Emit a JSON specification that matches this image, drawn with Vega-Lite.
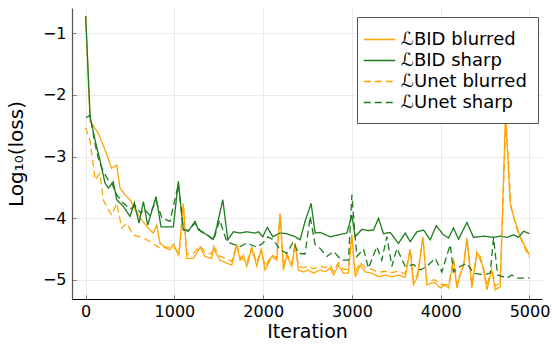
{
  "$schema": "https://vega.github.io/schema/vega-lite/v6.json",
  "autosize": "none",
  "width": 470,
  "height": 291,
  "padding": {"left": 72, "top": 8, "right": 10, "bottom": 46},
  "background": "white",
  "config": {
    "view": {"stroke": null},
    "font": "DejaVu Sans",
    "axis": {
      "labelFont": "DejaVu Sans",
      "titleFont": "DejaVu Sans",
      "labelColor": "#000000",
      "titleColor": "#000000",
      "labelFontSize": 16,
      "titleFontSize": 19,
      "titleFontWeight": "normal",
      "gridColor": "#e6e6e6",
      "gridWidth": 0.8,
      "tickColor": "#777777",
      "tickSize": -4,
      "domainWidth": 1.2
    },
    "legend": {
      "labelFont": "DejaVu Sans",
      "labelFontSize": 18,
      "labelColor": "#000000"
    }
  },
  "data": {"values": [
    {"series":"BID blurred","iteration":0,"loss":-0.72},
    {"series":"BID blurred","iteration":50,"loss":-2.43},
    {"series":"BID blurred","iteration":142,"loss":-2.62},
    {"series":"BID blurred","iteration":218,"loss":-2.89},
    {"series":"BID blurred","iteration":293,"loss":-3.19},
    {"series":"BID blurred","iteration":350,"loss":-3.14},
    {"series":"BID blurred","iteration":387,"loss":-3.51},
    {"series":"BID blurred","iteration":443,"loss":-3.62},
    {"series":"BID blurred","iteration":500,"loss":-3.70},
    {"series":"BID blurred","iteration":556,"loss":-3.86},
    {"series":"BID blurred","iteration":631,"loss":-4.03},
    {"series":"BID blurred","iteration":706,"loss":-4.16},
    {"series":"BID blurred","iteration":762,"loss":-4.24},
    {"series":"BID blurred","iteration":800,"loss":-4.11},
    {"series":"BID blurred","iteration":838,"loss":-4.41},
    {"series":"BID blurred","iteration":913,"loss":-4.49},
    {"series":"BID blurred","iteration":950,"loss":-4.51},
    {"series":"BID blurred","iteration":988,"loss":-4.42},
    {"series":"BID blurred","iteration":1050,"loss":-4.60},
    {"series":"BID blurred","iteration":1100,"loss":-3.76},
    {"series":"BID blurred","iteration":1139,"loss":-4.65},
    {"series":"BID blurred","iteration":1213,"loss":-4.65},
    {"series":"BID blurred","iteration":1251,"loss":-4.57},
    {"series":"BID blurred","iteration":1289,"loss":-4.47},
    {"series":"BID blurred","iteration":1345,"loss":-4.62},
    {"series":"BID blurred","iteration":1420,"loss":-4.65},
    {"series":"BID blurred","iteration":1439,"loss":-4.49},
    {"series":"BID blurred","iteration":1514,"loss":-4.68},
    {"series":"BID blurred","iteration":1590,"loss":-4.73},
    {"series":"BID blurred","iteration":1646,"loss":-4.76},
    {"series":"BID blurred","iteration":1702,"loss":-4.43},
    {"series":"BID blurred","iteration":1740,"loss":-4.68},
    {"series":"BID blurred","iteration":1777,"loss":-4.60},
    {"series":"BID blurred","iteration":1815,"loss":-4.78},
    {"series":"BID blurred","iteration":1871,"loss":-4.49},
    {"series":"BID blurred","iteration":1928,"loss":-4.78},
    {"series":"BID blurred","iteration":1977,"loss":-4.51},
    {"series":"BID blurred","iteration":2021,"loss":-4.84},
    {"series":"BID blurred","iteration":2097,"loss":-4.62},
    {"series":"BID blurred","iteration":2153,"loss":-4.68},
    {"series":"BID blurred","iteration":2190,"loss":-3.92},
    {"series":"BID blurred","iteration":2228,"loss":-4.84},
    {"series":"BID blurred","iteration":2265,"loss":-4.60},
    {"series":"BID blurred","iteration":2322,"loss":-4.78},
    {"series":"BID blurred","iteration":2360,"loss":-4.40},
    {"series":"BID blurred","iteration":2397,"loss":-4.84},
    {"series":"BID blurred","iteration":2453,"loss":-4.87},
    {"series":"BID blurred","iteration":2510,"loss":-4.84},
    {"series":"BID blurred","iteration":2566,"loss":-4.89},
    {"series":"BID blurred","iteration":2642,"loss":-4.84},
    {"series":"BID blurred","iteration":2698,"loss":-4.87},
    {"series":"BID blurred","iteration":2754,"loss":-4.81},
    {"series":"BID blurred","iteration":2792,"loss":-4.92},
    {"series":"BID blurred","iteration":2848,"loss":-4.76},
    {"series":"BID blurred","iteration":2904,"loss":-4.89},
    {"series":"BID blurred","iteration":2960,"loss":-4.89},
    {"series":"BID blurred","iteration":2999,"loss":-4.27},
    {"series":"BID blurred","iteration":3036,"loss":-4.95},
    {"series":"BID blurred","iteration":3092,"loss":-4.76},
    {"series":"BID blurred","iteration":3149,"loss":-4.87},
    {"series":"BID blurred","iteration":3224,"loss":-4.89},
    {"series":"BID blurred","iteration":3299,"loss":-4.95},
    {"series":"BID blurred","iteration":3374,"loss":-4.92},
    {"series":"BID blurred","iteration":3450,"loss":-4.95},
    {"series":"BID blurred","iteration":3524,"loss":-4.92},
    {"series":"BID blurred","iteration":3600,"loss":-4.96},
    {"series":"BID blurred","iteration":3656,"loss":-4.51},
    {"series":"BID blurred","iteration":3693,"loss":-5.08},
    {"series":"BID blurred","iteration":3740,"loss":-4.95},
    {"series":"BID blurred","iteration":3799,"loss":-4.30},
    {"series":"BID blurred","iteration":3844,"loss":-5.08},
    {"series":"BID blurred","iteration":3900,"loss":-5.05},
    {"series":"BID blurred","iteration":3938,"loss":-5.05},
    {"series":"BID blurred","iteration":3994,"loss":-5.13},
    {"series":"BID blurred","iteration":4050,"loss":-5.08},
    {"series":"BID blurred","iteration":4088,"loss":-5.13},
    {"series":"BID blurred","iteration":4144,"loss":-4.68},
    {"series":"BID blurred","iteration":4182,"loss":-5.13},
    {"series":"BID blurred","iteration":4220,"loss":-4.90},
    {"series":"BID blurred","iteration":4257,"loss":-4.78},
    {"series":"BID blurred","iteration":4295,"loss":-4.32},
    {"series":"BID blurred","iteration":4330,"loss":-4.80},
    {"series":"BID blurred","iteration":4351,"loss":-5.13},
    {"series":"BID blurred","iteration":4407,"loss":-4.57},
    {"series":"BID blurred","iteration":4445,"loss":-4.62},
    {"series":"BID blurred","iteration":4482,"loss":-4.84},
    {"series":"BID blurred","iteration":4520,"loss":-5.16},
    {"series":"BID blurred","iteration":4576,"loss":-4.84},
    {"series":"BID blurred","iteration":4614,"loss":-5.16},
    {"series":"BID blurred","iteration":4670,"loss":-5.11},
    {"series":"BID blurred","iteration":4730,"loss":-2.30},
    {"series":"BID blurred","iteration":4782,"loss":-3.76},
    {"series":"BID blurred","iteration":4821,"loss":-3.97},
    {"series":"BID blurred","iteration":4858,"loss":-4.14},
    {"series":"BID blurred","iteration":4895,"loss":-4.30},
    {"series":"BID blurred","iteration":4952,"loss":-4.46},
    {"series":"BID blurred","iteration":5000,"loss":-4.60},

    {"series":"BID sharp","iteration":0,"loss":-0.72},
    {"series":"BID sharp","iteration":50,"loss":-2.35},
    {"series":"BID sharp","iteration":105,"loss":-2.73},
    {"series":"BID sharp","iteration":160,"loss":-3.05},
    {"series":"BID sharp","iteration":218,"loss":-3.43},
    {"series":"BID sharp","iteration":255,"loss":-3.51},
    {"series":"BID sharp","iteration":311,"loss":-3.41},
    {"series":"BID sharp","iteration":350,"loss":-3.70},
    {"series":"BID sharp","iteration":420,"loss":-3.80},
    {"series":"BID sharp","iteration":500,"loss":-3.97},
    {"series":"BID sharp","iteration":548,"loss":-3.75},
    {"series":"BID sharp","iteration":601,"loss":-4.08},
    {"series":"BID sharp","iteration":650,"loss":-3.73},
    {"series":"BID sharp","iteration":699,"loss":-4.11},
    {"series":"BID sharp","iteration":793,"loss":-3.65},
    {"series":"BID sharp","iteration":849,"loss":-4.14},
    {"series":"BID sharp","iteration":988,"loss":-4.14},
    {"series":"BID sharp","iteration":1044,"loss":-3.40},
    {"series":"BID sharp","iteration":1100,"loss":-4.19},
    {"series":"BID sharp","iteration":1157,"loss":-4.21},
    {"series":"BID sharp","iteration":1232,"loss":-4.05},
    {"series":"BID sharp","iteration":1270,"loss":-4.19},
    {"series":"BID sharp","iteration":1307,"loss":-4.21},
    {"series":"BID sharp","iteration":1364,"loss":-4.27},
    {"series":"BID sharp","iteration":1439,"loss":-4.34},
    {"series":"BID sharp","iteration":1477,"loss":-4.14},
    {"series":"BID sharp","iteration":1545,"loss":-3.70},
    {"series":"BID sharp","iteration":1601,"loss":-4.35},
    {"series":"BID sharp","iteration":1664,"loss":-4.22},
    {"series":"BID sharp","iteration":1740,"loss":-4.24},
    {"series":"BID sharp","iteration":1815,"loss":-4.22},
    {"series":"BID sharp","iteration":1909,"loss":-4.24},
    {"series":"BID sharp","iteration":1946,"loss":-4.22},
    {"series":"BID sharp","iteration":1995,"loss":-4.30},
    {"series":"BID sharp","iteration":2047,"loss":-4.15},
    {"series":"BID sharp","iteration":2108,"loss":-4.30},
    {"series":"BID sharp","iteration":2190,"loss":-4.24},
    {"series":"BID sharp","iteration":2265,"loss":-4.25},
    {"series":"BID sharp","iteration":2360,"loss":-4.30},
    {"series":"BID sharp","iteration":2416,"loss":-4.35},
    {"series":"BID sharp","iteration":2472,"loss":-4.05},
    {"series":"BID sharp","iteration":2540,"loss":-3.76},
    {"series":"BID sharp","iteration":2585,"loss":-4.24},
    {"series":"BID sharp","iteration":2642,"loss":-4.23},
    {"series":"BID sharp","iteration":2754,"loss":-4.30},
    {"series":"BID sharp","iteration":2942,"loss":-4.24},
    {"series":"BID sharp","iteration":2999,"loss":-3.95},
    {"series":"BID sharp","iteration":3036,"loss":-4.30},
    {"series":"BID sharp","iteration":3112,"loss":-4.18},
    {"series":"BID sharp","iteration":3186,"loss":-4.20},
    {"series":"BID sharp","iteration":3243,"loss":-4.19},
    {"series":"BID sharp","iteration":3299,"loss":-4.00},
    {"series":"BID sharp","iteration":3355,"loss":-4.25},
    {"series":"BID sharp","iteration":3431,"loss":-4.23},
    {"series":"BID sharp","iteration":3524,"loss":-4.41},
    {"series":"BID sharp","iteration":3600,"loss":-4.24},
    {"series":"BID sharp","iteration":3656,"loss":-4.38},
    {"series":"BID sharp","iteration":3732,"loss":-4.22},
    {"series":"BID sharp","iteration":3806,"loss":-4.19},
    {"series":"BID sharp","iteration":3882,"loss":-4.35},
    {"series":"BID sharp","iteration":3949,"loss":-4.12},
    {"series":"BID sharp","iteration":4031,"loss":-4.27},
    {"series":"BID sharp","iteration":4088,"loss":-4.32},
    {"series":"BID sharp","iteration":4144,"loss":-4.16},
    {"series":"BID sharp","iteration":4201,"loss":-4.34},
    {"series":"BID sharp","iteration":4295,"loss":-4.07},
    {"series":"BID sharp","iteration":4370,"loss":-4.31},
    {"series":"BID sharp","iteration":4482,"loss":-4.29},
    {"series":"BID sharp","iteration":4595,"loss":-4.31},
    {"series":"BID sharp","iteration":4670,"loss":-4.29},
    {"series":"BID sharp","iteration":4746,"loss":-4.31},
    {"series":"BID sharp","iteration":4821,"loss":-4.27},
    {"series":"BID sharp","iteration":4877,"loss":-4.31},
    {"series":"BID sharp","iteration":4933,"loss":-4.21},
    {"series":"BID sharp","iteration":5000,"loss":-4.25},

    {"series":"Unet blurred","iteration":0,"loss":-2.53},
    {"series":"Unet blurred","iteration":50,"loss":-2.75},
    {"series":"Unet blurred","iteration":107,"loss":-3.38},
    {"series":"Unet blurred","iteration":161,"loss":-3.27},
    {"series":"Unet blurred","iteration":198,"loss":-3.70},
    {"series":"Unet blurred","iteration":250,"loss":-3.85},
    {"series":"Unet blurred","iteration":293,"loss":-3.95},
    {"series":"Unet blurred","iteration":350,"loss":-3.76},
    {"series":"Unet blurred","iteration":406,"loss":-4.16},
    {"series":"Unet blurred","iteration":462,"loss":-4.08},
    {"series":"Unet blurred","iteration":537,"loss":-4.27},
    {"series":"Unet blurred","iteration":650,"loss":-4.32},
    {"series":"Unet blurred","iteration":750,"loss":-4.40},
    {"series":"Unet blurred","iteration":838,"loss":-4.49},
    {"series":"Unet blurred","iteration":913,"loss":-4.47},
    {"series":"Unet blurred","iteration":988,"loss":-4.46},
    {"series":"Unet blurred","iteration":1050,"loss":-4.57},
    {"series":"Unet blurred","iteration":1100,"loss":-3.80},
    {"series":"Unet blurred","iteration":1139,"loss":-4.58},
    {"series":"Unet blurred","iteration":1213,"loss":-4.57},
    {"series":"Unet blurred","iteration":1289,"loss":-4.45},
    {"series":"Unet blurred","iteration":1345,"loss":-4.55},
    {"series":"Unet blurred","iteration":1420,"loss":-4.58},
    {"series":"Unet blurred","iteration":1439,"loss":-4.45},
    {"series":"Unet blurred","iteration":1514,"loss":-4.62},
    {"series":"Unet blurred","iteration":1590,"loss":-4.66},
    {"series":"Unet blurred","iteration":1646,"loss":-4.70},
    {"series":"Unet blurred","iteration":1702,"loss":-4.42},
    {"series":"Unet blurred","iteration":1740,"loss":-4.63},
    {"series":"Unet blurred","iteration":1815,"loss":-4.72},
    {"series":"Unet blurred","iteration":1871,"loss":-4.47},
    {"series":"Unet blurred","iteration":1928,"loss":-4.72},
    {"series":"Unet blurred","iteration":1977,"loss":-4.50},
    {"series":"Unet blurred","iteration":2021,"loss":-4.78},
    {"series":"Unet blurred","iteration":2097,"loss":-4.60},
    {"series":"Unet blurred","iteration":2153,"loss":-4.64},
    {"series":"Unet blurred","iteration":2190,"loss":-3.95},
    {"series":"Unet blurred","iteration":2228,"loss":-4.78},
    {"series":"Unet blurred","iteration":2265,"loss":-4.58},
    {"series":"Unet blurred","iteration":2322,"loss":-4.72},
    {"series":"Unet blurred","iteration":2360,"loss":-4.42},
    {"series":"Unet blurred","iteration":2397,"loss":-4.78},
    {"series":"Unet blurred","iteration":2453,"loss":-4.80},
    {"series":"Unet blurred","iteration":2510,"loss":-4.78},
    {"series":"Unet blurred","iteration":2566,"loss":-4.82},
    {"series":"Unet blurred","iteration":2642,"loss":-4.78},
    {"series":"Unet blurred","iteration":2698,"loss":-4.80},
    {"series":"Unet blurred","iteration":2754,"loss":-4.76},
    {"series":"Unet blurred","iteration":2792,"loss":-4.86},
    {"series":"Unet blurred","iteration":2848,"loss":-4.72},
    {"series":"Unet blurred","iteration":2904,"loss":-4.83},
    {"series":"Unet blurred","iteration":2960,"loss":-4.83},
    {"series":"Unet blurred","iteration":2999,"loss":-4.30},
    {"series":"Unet blurred","iteration":3036,"loss":-4.88},
    {"series":"Unet blurred","iteration":3092,"loss":-4.72},
    {"series":"Unet blurred","iteration":3149,"loss":-4.80},
    {"series":"Unet blurred","iteration":3224,"loss":-4.83},
    {"series":"Unet blurred","iteration":3299,"loss":-4.88},
    {"series":"Unet blurred","iteration":3374,"loss":-4.86},
    {"series":"Unet blurred","iteration":3450,"loss":-4.88},
    {"series":"Unet blurred","iteration":3524,"loss":-4.86},
    {"series":"Unet blurred","iteration":3600,"loss":-4.90},
    {"series":"Unet blurred","iteration":3656,"loss":-4.50},
    {"series":"Unet blurred","iteration":3693,"loss":-5.02},
    {"series":"Unet blurred","iteration":3740,"loss":-4.90},
    {"series":"Unet blurred","iteration":3799,"loss":-4.32},
    {"series":"Unet blurred","iteration":3844,"loss":-5.02},
    {"series":"Unet blurred","iteration":3938,"loss":-5.00},
    {"series":"Unet blurred","iteration":3994,"loss":-5.07},
    {"series":"Unet blurred","iteration":4088,"loss":-5.08},
    {"series":"Unet blurred","iteration":4144,"loss":-4.66},
    {"series":"Unet blurred","iteration":4182,"loss":-5.07},
    {"series":"Unet blurred","iteration":4257,"loss":-4.76},
    {"series":"Unet blurred","iteration":4295,"loss":-4.35},
    {"series":"Unet blurred","iteration":4351,"loss":-5.07},
    {"series":"Unet blurred","iteration":4407,"loss":-4.55},
    {"series":"Unet blurred","iteration":4482,"loss":-4.80},
    {"series":"Unet blurred","iteration":4520,"loss":-5.10},
    {"series":"Unet blurred","iteration":4576,"loss":-4.80},
    {"series":"Unet blurred","iteration":4614,"loss":-5.10},
    {"series":"Unet blurred","iteration":4670,"loss":-5.05},
    {"series":"Unet blurred","iteration":4735,"loss":-2.35},
    {"series":"Unet blurred","iteration":4790,"loss":-3.80},
    {"series":"Unet blurred","iteration":4858,"loss":-4.18},
    {"series":"Unet blurred","iteration":4952,"loss":-4.50},
    {"series":"Unet blurred","iteration":5000,"loss":-4.64},

    {"series":"Unet sharp","iteration":0,"loss":-2.37},
    {"series":"Unet sharp","iteration":50,"loss":-2.33},
    {"series":"Unet sharp","iteration":100,"loss":-2.75},
    {"series":"Unet sharp","iteration":142,"loss":-3.03},
    {"series":"Unet sharp","iteration":200,"loss":-3.25},
    {"series":"Unet sharp","iteration":255,"loss":-3.38},
    {"series":"Unet sharp","iteration":300,"loss":-3.45},
    {"series":"Unet sharp","iteration":350,"loss":-3.62},
    {"series":"Unet sharp","iteration":420,"loss":-3.75},
    {"series":"Unet sharp","iteration":500,"loss":-3.85},
    {"series":"Unet sharp","iteration":560,"loss":-3.80},
    {"series":"Unet sharp","iteration":620,"loss":-3.92},
    {"series":"Unet sharp","iteration":660,"loss":-3.85},
    {"series":"Unet sharp","iteration":720,"loss":-3.95},
    {"series":"Unet sharp","iteration":793,"loss":-3.72},
    {"series":"Unet sharp","iteration":860,"loss":-4.00},
    {"series":"Unet sharp","iteration":950,"loss":-4.05},
    {"series":"Unet sharp","iteration":1044,"loss":-3.45},
    {"series":"Unet sharp","iteration":1100,"loss":-4.18},
    {"series":"Unet sharp","iteration":1160,"loss":-4.20},
    {"series":"Unet sharp","iteration":1232,"loss":-4.08},
    {"series":"Unet sharp","iteration":1300,"loss":-4.22},
    {"series":"Unet sharp","iteration":1380,"loss":-4.28},
    {"series":"Unet sharp","iteration":1440,"loss":-4.36},
    {"series":"Unet sharp","iteration":1510,"loss":-4.03},
    {"series":"Unet sharp","iteration":1590,"loss":-4.38},
    {"series":"Unet sharp","iteration":1660,"loss":-4.42},
    {"series":"Unet sharp","iteration":1740,"loss":-4.46},
    {"series":"Unet sharp","iteration":1815,"loss":-4.40},
    {"series":"Unet sharp","iteration":1928,"loss":-4.47},
    {"series":"Unet sharp","iteration":2000,"loss":-4.40},
    {"series":"Unet sharp","iteration":2050,"loss":-4.30},
    {"series":"Unet sharp","iteration":2115,"loss":-4.35},
    {"series":"Unet sharp","iteration":2190,"loss":-4.51},
    {"series":"Unet sharp","iteration":2265,"loss":-4.57},
    {"series":"Unet sharp","iteration":2340,"loss":-4.38},
    {"series":"Unet sharp","iteration":2397,"loss":-4.57},
    {"series":"Unet sharp","iteration":2472,"loss":-4.58},
    {"series":"Unet sharp","iteration":2529,"loss":-3.97},
    {"series":"Unet sharp","iteration":2585,"loss":-4.43},
    {"series":"Unet sharp","iteration":2642,"loss":-4.49},
    {"series":"Unet sharp","iteration":2717,"loss":-4.62},
    {"series":"Unet sharp","iteration":2792,"loss":-4.54},
    {"series":"Unet sharp","iteration":2886,"loss":-4.68},
    {"series":"Unet sharp","iteration":2960,"loss":-4.68},
    {"series":"Unet sharp","iteration":2999,"loss":-3.62},
    {"series":"Unet sharp","iteration":3036,"loss":-4.30},
    {"series":"Unet sharp","iteration":3055,"loss":-4.62},
    {"series":"Unet sharp","iteration":3130,"loss":-4.50},
    {"series":"Unet sharp","iteration":3186,"loss":-4.81},
    {"series":"Unet sharp","iteration":3280,"loss":-4.46},
    {"series":"Unet sharp","iteration":3336,"loss":-4.68},
    {"series":"Unet sharp","iteration":3393,"loss":-4.30},
    {"series":"Unet sharp","iteration":3450,"loss":-4.78},
    {"series":"Unet sharp","iteration":3506,"loss":-4.49},
    {"series":"Unet sharp","iteration":3600,"loss":-4.78},
    {"series":"Unet sharp","iteration":3693,"loss":-4.75},
    {"series":"Unet sharp","iteration":3769,"loss":-4.84},
    {"series":"Unet sharp","iteration":3844,"loss":-4.78},
    {"series":"Unet sharp","iteration":3938,"loss":-4.65},
    {"series":"Unet sharp","iteration":4013,"loss":-4.87},
    {"series":"Unet sharp","iteration":4107,"loss":-4.43},
    {"series":"Unet sharp","iteration":4144,"loss":-4.87},
    {"series":"Unet sharp","iteration":4220,"loss":-4.78},
    {"series":"Unet sharp","iteration":4295,"loss":-4.73},
    {"series":"Unet sharp","iteration":4370,"loss":-4.89},
    {"series":"Unet sharp","iteration":4482,"loss":-4.92},
    {"series":"Unet sharp","iteration":4558,"loss":-4.89},
    {"series":"Unet sharp","iteration":4595,"loss":-4.32},
    {"series":"Unet sharp","iteration":4641,"loss":-4.92},
    {"series":"Unet sharp","iteration":4746,"loss":-4.97},
    {"series":"Unet sharp","iteration":4802,"loss":-4.92},
    {"series":"Unet sharp","iteration":4858,"loss":-4.97},
    {"series":"Unet sharp","iteration":5000,"loss":-4.97}
  ]},
  "mark": {"type": "line", "strokeWidth": 1.3, "clip": true},
  "encoding": {
    "x": {
      "field": "iteration", "type": "quantitative",
      "scale": {"domain": [-154, 5141], "nice": false, "zero": false},
      "axis": {"values": [0, 1000, 2000, 3000, 4000, 5000], "title": "Iteration", "format": "d", "domainColor": "#000000", "labelPadding": 8, "titlePadding": 3}
    },
    "y": {
      "field": "loss", "type": "quantitative",
      "scale": {"domain": [-5.31, -0.59], "nice": false, "zero": false},
      "axis": {"values": [-1, -2, -3, -4, -5], "title": "Log₁₀(loss)", "titleFontSize": 20, "format": "d", "domainColor": "#555555", "labelPadding": 10, "titlePadding": 16}
    },
    "color": {
      "field": "series", "type": "nominal",
      "scale": {"domain": ["BID blurred", "BID sharp", "Unet blurred", "Unet sharp"], "range": ["#FFA500", "#1E7B1E", "#FFA500", "#1E7B1E"]},
      "legend": {
        "title": null, "orient": "none", "legendX": 285, "legendY": 9,
        "labelExpr": "'ℒ' + datum.label",
        "symbolType": "M-1.5,0H1.5", "symbolSize": 441, "symbolStrokeWidth": 1.5,
        "strokeColor": "#555555", "fillColor": "#ffffff", "padding": 11,
        "rowPadding": 0, "labelOffset": 10
      }
    },
    "strokeDash": {
      "field": "series", "type": "nominal",
      "scale": {"domain": ["BID blurred", "BID sharp", "Unet blurred", "Unet sharp"], "range": [[1, 0], [1, 0], [7, 4], [7, 4]]},
      "legend": {
        "title": null, "orient": "none", "legendX": 285, "legendY": 9,
        "labelExpr": "'ℒ' + datum.label",
        "symbolType": "M-1.5,0H1.5", "symbolSize": 441, "symbolStrokeWidth": 1.5,
        "strokeColor": "#555555", "fillColor": "#ffffff", "padding": 11,
        "rowPadding": 0, "labelOffset": 10
      }
    }
  }
}
